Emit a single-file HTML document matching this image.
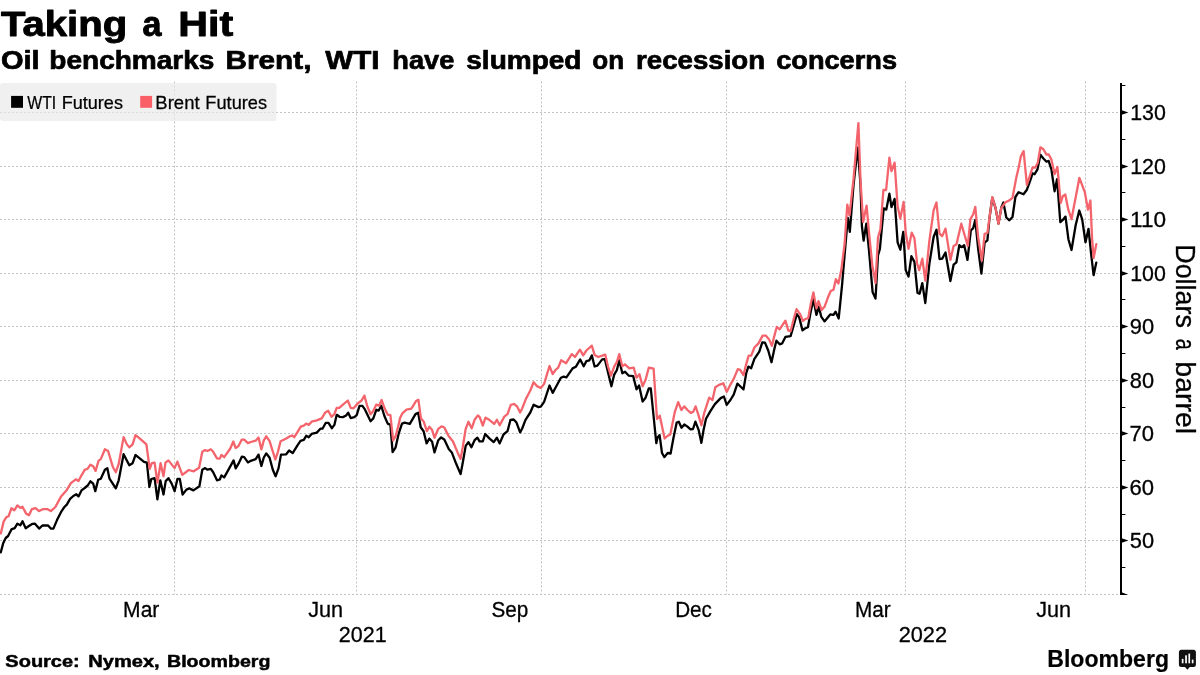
<!DOCTYPE html>
<html><head><meta charset="utf-8"><title>Taking a Hit</title>
<style>
html,body{margin:0;padding:0;background:#fff;}
body{width:1200px;height:675px;overflow:hidden;font-family:"Liberation Sans",sans-serif;}
svg{display:block;will-change:transform;}
text{font-family:"Liberation Sans",sans-serif;fill:#000;stroke:#000;stroke-linejoin:round;}
.grid line{stroke:#c2c2c2;stroke-width:1;stroke-dasharray:2 2;}
</style></head>
<body>
<svg width="1200" height="675" viewBox="0 0 1200 675">
<rect width="1200" height="675" fill="#fff"/>
<g class="grid">
<line x1="0" y1="594.5" x2="1120" y2="594.5"/>
<line x1="0" y1="540.5" x2="1120" y2="540.5"/>
<line x1="0" y1="487.5" x2="1120" y2="487.5"/>
<line x1="0" y1="433.5" x2="1120" y2="433.5"/>
<line x1="0" y1="380.5" x2="1120" y2="380.5"/>
<line x1="0" y1="326.5" x2="1120" y2="326.5"/>
<line x1="0" y1="273.5" x2="1120" y2="273.5"/>
<line x1="0" y1="219.5" x2="1120" y2="219.5"/>
<line x1="0" y1="166.5" x2="1120" y2="166.5"/>
<line x1="0" y1="112.5" x2="1120" y2="112.5"/>
<line x1="174.5" y1="81.5" x2="174.5" y2="594.5"/>
<line x1="356.5" y1="81.5" x2="356.5" y2="594.5"/>
<line x1="541.5" y1="81.5" x2="541.5" y2="594.5"/>
<line x1="726.5" y1="81.5" x2="726.5" y2="594.5"/>
<line x1="905.5" y1="81.5" x2="905.5" y2="594.5"/>
<line x1="1085.5" y1="81.5" x2="1085.5" y2="594.5"/>
</g>
<rect x="0" y="83" width="276.5" height="38" rx="3" fill="#e8e8e8" fill-opacity="0.65"/>
<rect x="11.1" y="95.9" width="11.9" height="11.9" fill="#000"/>
<rect x="140.2" y="95.9" width="11.9" height="11.9" fill="#fa5f68"/>
<polyline points="0.8,552.3 3.3,542.9 5.7,538.0 8.1,536.0 11.4,529.4 14.7,528.2 17.4,523.7 20.4,525.3 22.5,521.2 25.7,528.2 29.3,525.8 32.6,523.8 35.0,523.7 39.1,528.6 42.4,525.5 48.1,525.5 50.8,528.6 53.4,528.6 57.0,520.1 61.1,511.9 64.4,507.0 66.8,504.6 70.1,498.9 73.3,496.0 76.3,494.3 78.5,496.4 81.5,490.4 84.7,488.0 87.7,485.5 90.4,481.3 93.2,483.7 95.3,491.1 98.2,479.8 100.8,478.7 104.9,469.7 107.3,468.1 109.5,478.7 115.8,488.4 118.7,480.3 123.6,454.2 129.3,465.3 132.6,463.2 135.5,455.0 139.1,457.8 144.0,461.9 146.9,462.7 149.4,487.1 151.3,479.0 154.6,478.2 157.4,499.4 160.3,480.3 163.5,494.5 165.7,481.1 168.4,478.2 171.7,483.6 174.6,491.2 177.4,479.0 179.8,479.0 182.6,494.5 186.4,489.6 189.3,488.4 193.4,490.4 199.4,486.3 202.3,469.7 205.1,468.1 207.5,469.7 210.8,468.9 213.2,472.2 217.0,480.3 219.8,479.5 221.4,475.4 224.2,477.4 230.3,466.4 233.6,460.4 235.7,468.4 238.5,463.7 241.8,456.7 244.2,457.2 247.9,462.4 250.8,460.8 255.7,459.2 258.5,454.6 261.4,466.0 263.8,457.5 266.3,453.4 269.6,457.8 272.8,469.7 275.6,476.3 278.5,468.4 281.0,454.6 286.2,454.3 289.1,450.5 292.7,453.1 297.3,445.6 300.5,440.9 303.8,439.9 306.2,435.8 308.7,437.2 311.6,433.9 316.8,432.6 320.4,428.7 322.5,428.7 325.8,422.8 328.5,422.8 331.8,428.2 334.4,424.9 336.7,414.8 339.6,416.8 342.9,417.1 346.1,415.5 348.2,412.7 350.7,418.1 354.3,417.1 356.7,415.1 359.5,405.9 362.4,405.9 364.9,409.4 370.6,421.2 373.3,418.4 376.3,409.8 378.7,410.6 381.2,405.7 384.4,416.0 387.7,423.6 390.4,424.9 392.6,452.1 395.5,447.7 398.6,433.9 400.0,429.6 402.0,423.6 404.6,422.6 409.8,423.9 415.5,414.1 418.2,412.8 420.7,427.2 423.6,431.2 426.6,443.4 429.3,438.6 432.1,441.8 434.5,452.4 438.3,440.2 441.1,437.4 444.3,439.4 448.9,449.2 451.8,452.4 456.2,463.8 460.6,474.1 462.7,463.0 465.7,445.9 468.4,442.1 471.4,447.2 474.6,440.2 477.4,437.7 479.5,441.3 482.8,441.3 485.2,434.0 489.6,438.6 493.7,442.1 496.9,437.7 499.7,443.4 503.5,434.5 507.5,431.2 510.5,419.8 513.7,419.5 516.5,422.6 520.1,432.4 522.2,428.5 525.5,419.8 530.3,412.5 533.6,404.7 538.5,407.1 540.8,406.7 544.1,401.8 549.5,385.5 552.7,392.9 556.3,386.3 560.9,377.7 563.6,376.6 566.4,377.4 572.6,368.4 575.8,366.8 580.2,359.4 583.7,366.3 586.4,361.1 589.4,360.3 591.8,355.4 594.6,366.5 597.4,365.6 602.2,359.4 604.8,359.1 608.4,374.1 611.4,386.3 614.1,374.9 616.9,370.0 619.3,360.3 622.3,373.3 625.0,371.7 628.8,375.7 633.2,376.1 636.5,389.3 639.1,385.5 642.6,401.5 645.6,397.7 648.8,388.5 650.8,388.5 656.3,443.2 657.6,437.5 659.6,435.1 662.0,453.0 664.4,457.1 667.7,453.0 670.6,453.5 673.4,438.3 676.7,422.5 678.8,421.7 681.5,427.7 684.3,424.5 687.2,426.4 690.5,429.4 693.0,429.0 695.4,421.7 698.7,430.2 701.4,442.9 703.5,430.2 706.0,418.8 710.4,411.1 714.9,404.1 720.7,398.1 723.9,396.5 726.7,404.9 730.4,400.0 733.7,394.7 737.4,383.7 741.0,387.0 743.5,389.4 746.3,372.8 748.4,366.6 751.2,368.2 754.4,358.9 759.3,351.6 762.3,342.3 765.0,342.6 768.3,350.8 771.5,362.2 774.3,349.2 776.4,340.7 779.7,344.3 782.1,343.4 785.4,336.9 790.6,336.1 793.9,324.7 796.8,314.1 799.2,317.4 802.5,330.4 804.9,328.5 807.9,327.2 810.7,311.7 813.4,299.4 816.4,314.9 818.8,306.8 821.2,316.6 824.5,321.4 830.2,314.4 833.5,314.9 835.6,311.7 838.7,318.5 842.1,284.7 845.4,245.6 847.8,217.9 849.8,231.8 853.5,185.1 857.7,147.6 860.4,183.0 861.9,226.0 863.6,240.7 866.3,223.6 869.0,250.5 872.6,292.1 875.5,298.6 878.0,255.4 879.9,248.9 883.7,208.4 886.3,209.6 889.4,193.7 891.5,207.1 894.6,198.9 897.6,242.4 900.3,249.7 903.3,231.8 905.7,270.1 908.5,276.6 911.4,256.2 914.4,261.9 917.5,292.9 919.6,293.7 922.3,283.1 925.3,303.0 929.4,263.6 933.6,237.0 936.5,229.7 939.5,259.0 942.2,258.6 945.5,252.5 950.4,281.0 953.6,264.7 956.4,262.3 959.3,245.2 961.8,247.1 964.2,245.2 967.5,259.9 970.8,230.5 973.2,228.1 975.3,219.9 978.1,248.4 981.4,273.7 984.6,242.7 987.4,240.3 989.5,218.0 992.3,197.6 995.5,207.9 998.5,223.6 1001.3,207.5 1003.4,202.5 1006.3,217.5 1009.4,220.3 1012.5,217.0 1015.4,197.0 1018.6,192.2 1023.5,194.3 1026.9,189.7 1030.2,180.7 1032.6,173.4 1034.6,174.2 1037.5,169.3 1040.4,154.7 1043.2,158.3 1046.5,161.7 1048.6,160.9 1051.4,169.3 1054.6,191.3 1057.1,179.1 1060.3,222.1 1062.8,219.9 1065.5,216.6 1068.4,239.2 1071.5,250.0 1075.7,225.0 1079.3,210.5 1082.2,219.4 1085.5,242.3 1088.5,228.8 1091.1,253.7 1093.6,275.2 1096.3,262.6" fill="none" stroke="#000" stroke-width="2.3" stroke-linejoin="round" stroke-linecap="round"/>
<polyline points="0.8,533.4 3.6,521.7 6.2,517.3 8.5,516.3 11.4,508.3 14.3,510.3 17.4,505.4 20.4,507.9 22.5,506.7 26.1,513.6 29.0,515.2 31.8,509.2 35.5,508.2 39.1,511.1 42.7,509.2 47.6,509.2 50.8,511.1 55.4,507.0 61.1,496.4 66.8,489.9 70.9,483.1 75.8,479.3 78.5,481.0 81.5,475.3 84.7,469.9 87.7,468.7 90.4,464.7 93.2,466.3 95.6,470.9 98.6,460.6 100.8,459.1 104.9,449.3 108.1,451.0 113.0,467.3 115.8,472.2 118.7,464.0 123.6,437.1 126.9,444.4 129.3,447.4 132.6,444.4 135.5,435.2 139.9,438.7 146.4,444.4 149.7,468.9 151.8,463.2 154.6,462.7 157.4,482.7 160.6,463.2 163.5,476.2 165.5,462.7 168.4,460.4 174.6,468.1 177.4,461.6 182.3,474.9 188.8,470.0 193.7,471.3 199.1,467.8 202.3,451.8 205.1,450.1 207.5,451.0 210.8,449.3 213.2,451.8 217.0,458.3 219.8,458.6 221.4,455.0 224.2,457.2 230.3,448.5 233.3,441.5 235.6,448.0 238.5,446.1 241.8,439.6 244.2,439.6 247.9,443.1 250.8,442.0 255.7,440.7 258.5,437.5 261.4,449.4 263.8,440.4 266.3,436.3 269.6,441.2 275.3,459.5 277.7,452.6 280.6,441.2 285.8,438.8 289.9,436.3 292.0,435.5 294.3,437.2 297.3,432.3 300.8,426.6 303.8,425.7 306.2,423.6 308.7,424.9 311.6,421.7 316.8,420.4 321.7,418.4 325.3,412.4 328.2,410.7 331.5,416.8 334.4,414.0 336.7,407.8 339.3,407.8 342.1,405.4 347.8,400.5 350.7,407.8 353.5,408.3 357.5,403.7 361.6,400.5 364.4,395.6 367.3,406.2 370.6,414.3 373.3,411.1 376.3,404.6 379.2,405.7 381.6,400.0 384.4,407.8 387.7,414.7 390.4,415.1 393.1,440.4 395.8,435.8 398.6,424.9 400.0,418.2 402.4,413.3 406.5,409.6 411.4,408.7 416.0,401.1 418.4,399.8 420.9,418.2 423.6,421.4 426.9,431.2 429.3,426.8 432.1,430.1 434.5,437.7 438.3,428.8 441.5,426.3 444.3,427.5 448.6,436.1 453.0,441.5 457.8,452.9 460.6,458.9 462.7,447.5 465.7,428.8 468.4,421.8 471.7,428.3 474.6,419.8 477.9,415.4 479.8,417.4 482.8,425.5 485.5,417.7 489.3,419.8 494.2,423.9 496.9,419.8 499.7,425.2 504.3,416.6 507.5,414.1 510.8,404.8 514.1,404.0 517.0,406.3 520.1,412.5 522.2,408.4 525.5,399.8 530.3,390.5 533.6,382.3 536.9,386.1 540.8,388.0 544.1,383.9 549.5,366.0 552.7,374.1 555.5,370.0 558.2,367.6 561.2,360.3 566.1,363.2 571.8,354.2 575.0,357.0 579.9,349.7 583.2,355.4 586.4,350.5 591.8,345.6 594.6,354.9 598.3,357.0 605.2,354.6 608.1,366.8 610.9,375.7 614.1,366.8 616.9,361.9 619.3,354.2 622.3,366.3 625.0,364.3 629.3,368.4 633.7,367.6 636.5,377.7 639.4,374.1 642.6,386.3 645.6,379.8 648.8,367.6 653.6,368.7 657.0,418.9 659.8,415.7 664.6,438.5 667.4,436.0 670.3,434.4 674.9,411.6 678.2,402.1 681.4,410.0 684.2,406.4 687.5,410.0 690.7,412.9 693.2,411.9 695.6,406.4 698.4,414.9 701.4,425.3 704.4,412.3 709.2,397.6 712.5,400.0 715.3,387.3 719.0,384.9 723.4,383.3 726.7,391.9 730.4,384.6 733.7,378.9 737.8,369.1 740.2,369.9 743.5,375.1 746.3,363.8 748.7,355.7 751.2,355.7 754.4,347.5 758.5,343.4 762.6,335.6 765.8,335.6 769.1,339.4 771.9,345.9 774.3,336.1 776.8,326.8 779.7,329.3 785.4,320.6 788.3,330.4 790.6,331.2 793.9,318.2 796.5,309.2 800.1,314.1 803.0,321.0 805.3,319.0 808.2,318.2 811.0,302.7 813.4,292.4 816.4,308.4 818.5,301.1 821.6,310.0 824.5,306.8 827.8,297.8 830.7,291.0 833.5,289.7 835.9,279.1 838.4,283.5 841.3,270.1 844.6,244.0 847.3,204.6 849.5,215.4 853.5,179.4 858.4,123.1 860.5,180.2 863.1,221.9 866.6,205.6 869.0,232.6 872.3,265.2 875.5,283.1 878.0,237.5 880.4,229.3 883.4,190.0 886.1,190.0 889.4,157.7 891.5,171.2 894.6,162.6 897.6,206.3 900.3,218.6 903.6,201.9 905.7,232.6 908.5,248.9 911.7,232.6 914.4,238.3 917.1,263.6 919.2,270.1 922.3,258.7 925.3,280.7 929.4,240.7 933.6,210.3 936.5,202.5 939.5,233.6 942.2,236.1 945.5,228.6 950.4,259.9 953.6,246.0 956.4,244.4 961.3,223.7 967.8,246.0 970.4,219.1 973.2,214.2 975.3,206.9 978.1,237.0 981.9,260.7 984.6,233.8 987.4,233.0 992.3,197.1 995.5,207.7 998.5,223.7 1001.3,208.0 1005.5,202.3 1009.4,200.4 1012.5,197.9 1016.3,177.5 1018.8,166.9 1020.9,156.3 1023.6,151.1 1026.9,184.8 1032.6,167.4 1035.1,167.7 1037.8,162.8 1040.4,147.3 1043.2,149.0 1046.5,154.7 1048.6,154.3 1051.4,159.6 1054.6,174.2 1057.4,166.9 1060.7,203.0 1062.8,196.2 1065.3,194.5 1068.3,209.7 1071.5,219.2 1079.4,177.8 1084.8,192.2 1088.0,209.7 1090.4,200.5 1092.1,238.9 1093.6,258.1 1096.3,244.1" fill="none" stroke="#f4646c" stroke-width="2.3" stroke-linejoin="round" stroke-linecap="round"/>
<rect x="1120" y="83" width="2" height="512" fill="#000"/>
<g fill="#000">
<path d="M1121 537.9 L1128.4 540.5 L1121 543.1 Z"/>
<path d="M1121 484.9 L1128.4 487.5 L1121 490.1 Z"/>
<path d="M1121 430.9 L1128.4 433.5 L1121 436.1 Z"/>
<path d="M1121 377.9 L1128.4 380.5 L1121 383.1 Z"/>
<path d="M1121 323.9 L1128.4 326.5 L1121 329.1 Z"/>
<path d="M1121 270.9 L1128.4 273.5 L1121 276.1 Z"/>
<path d="M1121 216.9 L1128.4 219.5 L1121 222.1 Z"/>
<path d="M1121 163.9 L1128.4 166.5 L1121 169.1 Z"/>
<path d="M1121 109.9 L1128.4 112.5 L1121 115.1 Z"/>
<path d="M1121 591.9 L1128.4 595.0 L1121 595.0 Z"/>
<rect x="1121" y="567.0" width="4.4" height="1"/>
<rect x="1121" y="514.0" width="4.4" height="1"/>
<rect x="1121" y="460.0" width="4.4" height="1"/>
<rect x="1121" y="407.0" width="4.4" height="1"/>
<rect x="1121" y="353.0" width="4.4" height="1"/>
<rect x="1121" y="299.0" width="4.4" height="1"/>
<rect x="1121" y="246.0" width="4.4" height="1"/>
<rect x="1121" y="192.0" width="4.4" height="1"/>
<rect x="1121" y="139.0" width="4.4" height="1"/>
<rect x="1121" y="85.0" width="4.4" height="1"/>
</g>
<text transform="translate(1.07,36.20) scale(1.1384,1)" font-size="35.2" font-weight="bold" stroke-width="0.9">Taking</text>
<text transform="translate(142.39,36.20) scale(0.9692,1)" font-size="35.2" font-weight="bold" stroke-width="0.9">a</text>
<text transform="translate(178.27,36.20) scale(1.1702,1)" font-size="35.2" font-weight="bold" stroke-width="0.9">Hit</text>
<text transform="translate(0.89,68.90) scale(1.1165,1)" font-size="26" font-weight="bold" stroke-width="0.7">Oil</text>
<text transform="translate(49.35,68.90) scale(1.0782,1)" font-size="26" font-weight="bold" stroke-width="0.7">benchmarks</text>
<text transform="translate(225.52,68.90) scale(1.1442,1)" font-size="26" font-weight="bold" stroke-width="0.7">Brent,</text>
<text transform="translate(325.20,68.90) scale(1.1397,1)" font-size="26" font-weight="bold" stroke-width="0.7">WTI</text>
<text transform="translate(392.30,68.90) scale(1.0474,1)" font-size="26" font-weight="bold" stroke-width="0.7">have</text>
<text transform="translate(466.27,68.90) scale(1.0776,1)" font-size="26" font-weight="bold" stroke-width="0.7">slumped</text>
<text transform="translate(592.26,68.90) scale(1.0013,1)" font-size="26" font-weight="bold" stroke-width="0.7">on</text>
<text transform="translate(636.11,68.90) scale(1.0626,1)" font-size="26" font-weight="bold" stroke-width="0.7">recession</text>
<text transform="translate(776.23,68.90) scale(1.0454,1)" font-size="26" font-weight="bold" stroke-width="0.7">concerns</text>
<text transform="translate(27.28,108.70) scale(0.8668,1)" font-size="18.2" font-weight="normal" stroke-width="0.25">WTI</text>
<text transform="translate(61.68,108.70) scale(0.9940,1)" font-size="18.2" font-weight="normal" stroke-width="0.25">Futures</text>
<text transform="translate(155.35,108.70) scale(1.0166,1)" font-size="18.2" font-weight="normal" stroke-width="0.25">Brent</text>
<text transform="translate(205.37,108.70) scale(1.0007,1)" font-size="18.2" font-weight="normal" stroke-width="0.25">Futures</text>
<text transform="translate(123.10,616.60) scale(0.9277,1)" font-size="22.7" font-weight="normal" stroke-width="0.3">Mar</text>
<text transform="translate(308.19,616.60) scale(0.9555,1)" font-size="22.7" font-weight="normal" stroke-width="0.3">Jun</text>
<text transform="translate(491.52,616.60) scale(0.9124,1)" font-size="22.7" font-weight="normal" stroke-width="0.3">Sep</text>
<text transform="translate(675.13,616.60) scale(0.9124,1)" font-size="22.7" font-weight="normal" stroke-width="0.3">Dec</text>
<text transform="translate(854.93,616.60) scale(0.9143,1)" font-size="22.7" font-weight="normal" stroke-width="0.3">Mar</text>
<text transform="translate(1036.29,616.60) scale(0.9527,1)" font-size="22.7" font-weight="normal" stroke-width="0.3">Jun</text>
<text transform="translate(338.86,641.60) scale(0.9769,1)" font-size="22" font-weight="normal" stroke-width="0.3">2021</text>
<text transform="translate(898.65,641.60) scale(0.9882,1)" font-size="22" font-weight="normal" stroke-width="0.3">2022</text>
<text transform="translate(5.33,667.40) scale(1.1568,1)" font-size="17.3" font-weight="bold" stroke-width="0.5">Source:</text>
<text transform="translate(88.25,667.40) scale(1.1609,1)" font-size="17.3" font-weight="bold" stroke-width="0.5">Nymex,</text>
<text transform="translate(166.97,667.40) scale(1.1336,1)" font-size="17.3" font-weight="bold" stroke-width="0.5">Bloomberg</text>
<text transform="translate(1047.27,666.90) scale(0.9536,1)" font-size="24.2" font-weight="bold" stroke-width="0.2">Bloomberg</text>
<text transform="translate(1129.80,548.25) scale(0.9850,1)" font-size="22.2" font-weight="normal" stroke-width="0.3">50</text>
<text transform="translate(1129.58,495.25) scale(0.9944,1)" font-size="22.2" font-weight="normal" stroke-width="0.3">60</text>
<text transform="translate(1129.62,441.25) scale(0.9925,1)" font-size="22.2" font-weight="normal" stroke-width="0.3">70</text>
<text transform="translate(1129.86,388.25) scale(0.9824,1)" font-size="22.2" font-weight="normal" stroke-width="0.3">80</text>
<text transform="translate(1129.76,334.25) scale(0.9865,1)" font-size="22.2" font-weight="normal" stroke-width="0.3">90</text>
<text transform="translate(1130.19,281.25) scale(0.9642,1)" font-size="22.2" font-weight="normal" stroke-width="0.3">100</text>
<text transform="translate(1130.11,227.25) scale(1.0173,1)" font-size="22.2" font-weight="normal" stroke-width="0.3">110</text>
<text transform="translate(1130.19,174.25) scale(0.9642,1)" font-size="22.2" font-weight="normal" stroke-width="0.3">120</text>
<text transform="translate(1130.19,120.25) scale(0.9642,1)" font-size="22.2" font-weight="normal" stroke-width="0.3">130</text>
<text transform="translate(1176,244.20) rotate(90) scale(0.9692,1)" font-size="27.8" stroke-width="0.3">Dollars</text>
<text transform="translate(1176,338.75) rotate(90) scale(0.7157,1)" font-size="27.8" stroke-width="0.3">a</text>
<text transform="translate(1176,361.28) rotate(90) scale(1.0256,1)" font-size="27.8" stroke-width="0.3">barrel</text>

<g transform="translate(0.2,0.5)">
<path d="M1181.2 649.2 h12 a2.5 2.5 0 0 1 2.5 2.5 v12.2 a2.5 2.5 0 0 1 -2.5 2.5 h-3.6 l-2.4 2.9 l-2.4 -2.9 h-3.6 a2.5 2.5 0 0 1 -2.5 -2.5 v-12.2 a2.5 2.5 0 0 1 2.5 -2.5 z" fill="#111"/>
<rect x="1181.6" y="658.4" width="1.7" height="4.4" fill="#fff"/>
<rect x="1185.0" y="654.8" width="1.7" height="8.0" fill="#fff"/>
<rect x="1188.2" y="653.1" width="1.7" height="9.7" fill="#fff"/>
<rect x="1191.6" y="659.1" width="1.7" height="3.7" fill="#fff"/>
</g>
</svg>
</body></html>
